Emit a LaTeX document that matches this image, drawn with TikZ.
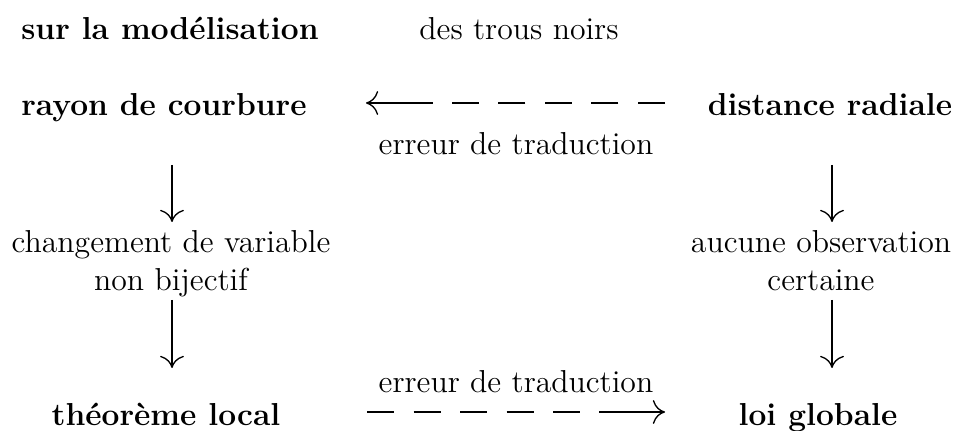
\documentclass[tikz,border=0pt]{standalone}
\usetikzlibrary{arrows.meta}
\begin{document}
\begin{tikzpicture}[x=0.378pt,y=-0.378pt,
  lbl/.style={inner sep=0pt,anchor=base,font=\fontsize{12}{14.4}\selectfont,align=center},
  blbl/.style={lbl,font=\fontsize{12}{14.4}\selectfont\bfseries},
  conn/.style={line width=0.5pt},
  tipd/.style={conn,-{To[length=4.6pt,width=9pt]}},
  dashconn/.style={conn,dash pattern=on 10.2pt off 7.4pt}]
\useasboundingbox (0,0) rectangle (966,431);
% top line
\node[blbl] (t1) at (170,40) {sur la modélisation};
\node[lbl] (t2) at (519,40) {des trous noirs};
% row 2
\node[blbl] (rc) at (164,116) {rayon de courbure};
\node[blbl] (dr) at (830,116) {distance radiale};
\node[lbl] (e1) at (516,155) {erreur de traduction};
% middle labels
\node[lbl] (cv) at (171,291) {changement de variable\\non bijectif};
\node[lbl] (ao) at (821,291) {aucune observation\\certaine};
% bottom
\node[lbl] (e2) at (516,392) {erreur de traduction};
\node[blbl] (tl) at (166,426) {théorème local};
\node[blbl] (lg) at (818,426) {loi globale};
% connector ends
\coordinate (a1) at (665,103);
\coordinate (a2) at (432,103);
\coordinate (a3) at (366,103);
\coordinate (b1) at (367,412);
\coordinate (b2) at (599,412);
\coordinate (b3) at (665,412);
\coordinate (l1) at (172,165);
\coordinate (l2) at (172,222);
\coordinate (l3) at (172,300);
\coordinate (l4) at (172,368);
\coordinate (r1) at (832,165);
\coordinate (r2) at (832,222);
\coordinate (r3) at (832,300);
\coordinate (r4) at (832,368);
% horizontal connectors
\draw[dashconn] (a1) -- (a2);
\draw[tipd] (a2) -- (a3);
\draw[dashconn] (b1) -- (b2);
\draw[tipd] (b2) -- (b3);
% vertical connectors
\draw[tipd] (l1) -- (l2);
\draw[tipd] (l3) -- (l4);
\draw[tipd] (r1) -- (r2);
\draw[tipd] (r3) -- (r4);
\end{tikzpicture}
\end{document}
